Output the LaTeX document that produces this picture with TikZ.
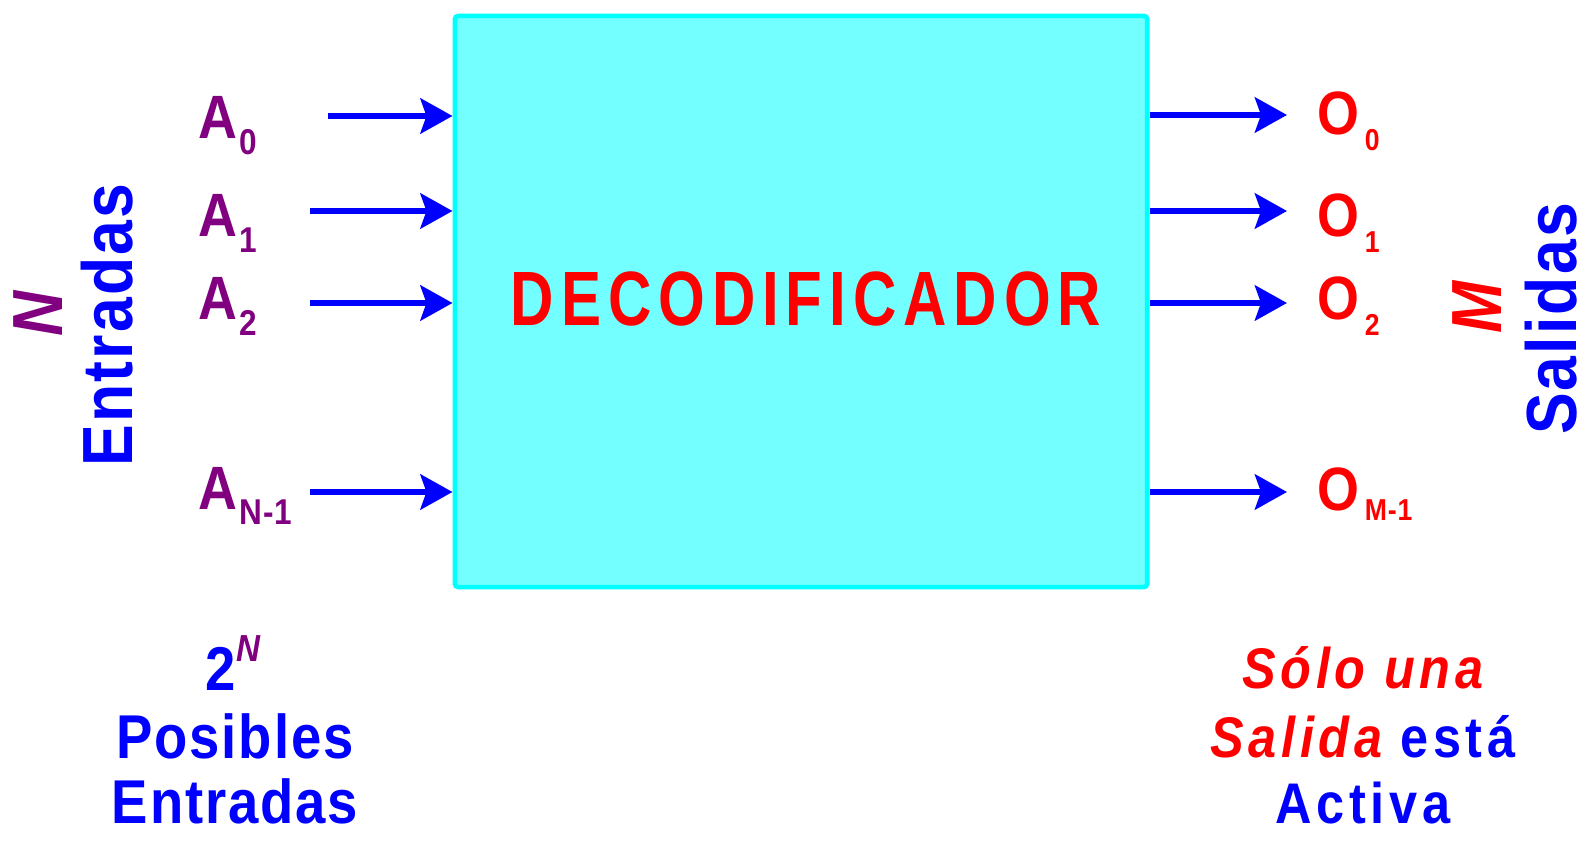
\documentclass[tikz,border=0pt]{standalone}
\usepackage{fontspec}
\setmainfont[FakeStretch=0.88,LetterSpace=3]{Liberation Sans}
\newfontfamily\titlefont[FakeStretch=0.78,LetterSpace=9]{Liberation Sans}
\newfontfamily\notafont[FakeStretch=0.88,LetterSpace=8]{Liberation Sans}
\usetikzlibrary{arrows.meta}
\definecolor{purp}{RGB}{128,0,128}
\definecolor{azul}{RGB}{0,0,255}
\definecolor{rojo}{RGB}{255,0,0}
\definecolor{cian}{RGB}{0,255,255}
\definecolor{cianclaro}{RGB}{115,255,255}
\newcommand{\subidx}[4]{\kern#1\raisebox{-#2}{\fontsize{#3}{#3}\selectfont #4}}
\tikzset{
	decbox/.style={draw=cian, fill=cianclaro, line width=1.3pt, rounded corners=1pt,
		minimum width=6.92cm, minimum height=5.71cm, inner sep=0pt},
	titulo/.style={inner sep=0pt, text=rojo, font=\titlefont\bfseries\fontsize{21.9}{24}\selectfont},
	inlbl/.style={anchor=base west, inner sep=0pt, text=purp, font=\bfseries\fontsize{17.4}{20}\selectfont},
	outlbl/.style={anchor=base west, inner sep=0pt, text=rojo, font=\bfseries\fontsize{17.4}{20}\selectfont},
	sidelbl/.style={rotate=90, inner sep=0pt, font=\bfseries\fontsize{20.2}{22}\selectfont},
	nota/.style={anchor=base, inner sep=0pt, font=\bfseries\fontsize{17.6}{20}\selectfont},
	notar/.style={anchor=base, inner sep=0pt, font=\notafont\bfseries\fontsize{16.3}{18}\selectfont},
	flecha/.style={-{Stealth[length=0.32cm,width=0.35cm,inset=0.06cm]}, line width=1.9pt, azul}
}
\begin{document}
\begin{tikzpicture}[x=0.01cm, y=-0.01cm]
	\useasboundingbox (0,0) rectangle (1592,861);
	\node[decbox] (dec) at (801,301.5) {};
	\node[titulo] (deco) at (806,299) {DECODIFICADOR};

	\node[inlbl] (a0) at (198,139) {A\subidx{0.5pt}{4.5pt}{10.2}{0}};
	\node[inlbl] (a1) at (198,237) {A\subidx{0.5pt}{4.5pt}{10.2}{1}};
	\node[inlbl] (a2) at (198,320) {A\subidx{0.5pt}{4.5pt}{10.2}{2}};
	\node[inlbl] (an) at (198,509) {A\subidx{0.5pt}{4.5pt}{10.2}{N-1}};
	\coordinate (i0) at (328,116);
	\coordinate (i1) at (310,211);
	\coordinate (i2) at (310,303);
	\coordinate (in) at (310,492);
	\draw[flecha] (i0) -- (i0 -| dec.west);
	\draw[flecha] (i1) -- (i1 -| dec.west);
	\draw[flecha] (i2) -- (i2 -| dec.west);
	\draw[flecha] (in) -- (in -| dec.west);

	\node[outlbl] (o0) at (1317,135) {O\subidx{1.5pt}{4.5pt}{8.6}{0}};
	\node[outlbl] (o1) at (1317,237) {O\subidx{1.5pt}{4.5pt}{8.6}{1}};
	\node[outlbl] (o2) at (1317,320) {O\subidx{1.5pt}{4.5pt}{8.6}{2}};
	\node[outlbl] (om) at (1317,510) {O\subidx{1.5pt}{3pt}{8.6}{M-1}};
	\coordinate (e0) at (1287,115);
	\coordinate (e1) at (1287,211);
	\coordinate (e2) at (1287,303);
	\coordinate (em) at (1287,492);
	\draw[flecha] (e0 -| dec.east) -- (e0);
	\draw[flecha] (e1 -| dec.east) -- (e1);
	\draw[flecha] (e2 -| dec.east) -- (e2);
	\draw[flecha] (em -| dec.east) -- (em);

	\node[sidelbl, text=purp] (nn) at (38,314) {\itshape N};
	\node[sidelbl, text=azul] (entradas) at (107,325) {Entradas};
	\node[sidelbl, text=rojo] (mm) at (1477,307) {\itshape M};
	\node[sidelbl, text=azul] (salidas) at (1551,319) {Salidas};

	\node[nota, text=azul] (dosn) at (233,690) {2\raisebox{8pt}{\fontsize{10.7}{11}\selectfont\itshape\color{purp}N}};
	\node[nota, text=azul] (posibles) at (235,758) {Posibles};
	\node[nota, text=azul] (entradas2) at (235,823) {Entradas};

	\node[notar, text=rojo] (solo) at (1363,688) {\itshape Sólo una};
	\node[notar, text=azul] (salida) at (1363,757) {{\color{rojo}\itshape Salida} está};
	\node[notar, text=azul] (activa) at (1363,823) {Activa};
\end{tikzpicture}
\end{document}
